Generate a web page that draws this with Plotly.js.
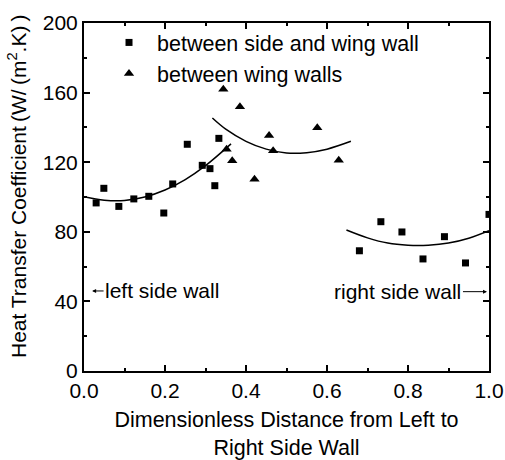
<!DOCTYPE html>
<html>
<head>
<meta charset="utf-8">
<script src="https://cdn.plot.ly/plotly-3.0.1.min.js"></script>
<style>html,body{margin:0;padding:0;background:#fff;}#chart{width:505px;height:460px;}</style>
</head>
<body>
<div id="chart"></div>
<script>
// Data
const squareX = [0.030, 0.049, 0.086, 0.123, 0.160, 0.197, 0.219, 0.255, 0.292, 0.311, 0.323, 0.333, 0.680, 0.733, 0.785, 0.837, 0.890, 0.942, 1.000];
const squareY = [96.6, 105.0, 94.6, 98.9, 100.4, 90.8, 107.5, 130.3, 118.2, 116.3, 106.5, 133.7, 69.1, 85.8, 79.9, 64.4, 77.2, 62.1, 90.0];
const triangleX = [0.344, 0.352, 0.366, 0.385, 0.421, 0.457, 0.467, 0.576, 0.629];
const triangleY = [161.9, 127.4, 120.9, 151.9, 110.2, 135.4, 126.6, 139.8, 121.1];
// Fit curves
const fitLeftX = [0.0, 0.05, 0.10, 0.15, 0.20, 0.25, 0.30, 0.363];
const fitLeftY = [100.2, 98.2, 98.0, 100.0, 104.0, 110.0, 118.0, 130.5];
const fitMidX = [0.317, 0.35, 0.40, 0.45, 0.50, 0.55, 0.60, 0.659];
const fitMidY = [145.4, 139.0, 132.0, 127.5, 125.3, 125.5, 127.5, 132.0];
const fitRightX = [0.648, 0.70, 0.75, 0.80, 0.85, 0.90, 0.95, 1.0];
const fitRightY = [81.0, 76.5, 73.5, 72.3, 72.3, 73.5, 76.3, 80.6];
const seriesNames = ['between side and wing wall', 'between wing walls'];
const xTitle = 'Dimensionless Distance from Left to<br>Right Side Wall';
const yTitle = 'Heat Transfer Coefficient\u2009(W/\u2009(m<sup>2</sup>.K)\u2009)';
const leftLabel = 'left side wall';
const rightLabel = 'right side wall';
const leftLabelAt = [0.02, 46];
const rightLabelAt = [0.995, 45.6];

const FONT = 'Liberation Sans, Arial, sans-serif';
const fitLine = {color: '#000', width: 1.5, shape: 'spline'};

const traces = [
  {x: squareX, y: squareY, type: 'scatter', mode: 'markers', name: seriesNames[0],
   marker: {symbol: 'square', size: 7, color: '#000'}},
  {x: triangleX, y: triangleY, type: 'scatter', mode: 'markers', name: seriesNames[1],
   marker: {symbol: 'triangle-up', size: 9, color: '#000'}},
  {x: fitLeftX, y: fitLeftY, type: 'scatter', mode: 'lines', line: fitLine, showlegend: false, hoverinfo: 'skip'},
  {x: fitMidX, y: fitMidY, type: 'scatter', mode: 'lines', line: fitLine, showlegend: false, hoverinfo: 'skip'},
  {x: fitRightX, y: fitRightY, type: 'scatter', mode: 'lines', line: fitLine, showlegend: false, hoverinfo: 'skip'}
];

const axisCommon = {
  showgrid: false, zeroline: false, showline: true, linecolor: '#000', linewidth: 2,
  mirror: 'ticks', ticks: 'inside', ticklen: 6, tickwidth: 2, tickcolor: '#000',
  tickfont: {family: FONT, size: 21, color: '#000'}
};

const layout = {
  width: 505, height: 460,
  margin: {l: 84, r: 16, t: 23, b: 89},
  paper_bgcolor: '#fff', plot_bgcolor: '#fff',
  font: {family: FONT, color: '#000'},
  xaxis: Object.assign({}, axisCommon, {
    range: [0, 1], dtick: 0.2, tickformat: '.1f',
    minor: {dtick: 0.1, ticks: 'inside', ticklen: 3, tickwidth: 2, tickcolor: '#000'},
    title: {text: xTitle, font: {family: FONT, size: 21.5, color: '#000'}, standoff: 17}
  }),
  yaxis: Object.assign({}, axisCommon, {
    range: [0, 200], dtick: 40,
    minor: {dtick: 20, ticks: 'inside', ticklen: 3, tickwidth: 2, tickcolor: '#000'}
  }),
  legend: {
    x: 0.042, y: 1.003, xanchor: 'left', yanchor: 'top',
    bgcolor: 'rgba(0,0,0,0)', borderwidth: 0,
    itemwidth: 46,
    font: {family: FONT, size: 21.5, color: '#000'},
    tracegroupgap: 0
  },
  showlegend: true,
  annotations: [
    {x: -0.165, y: 0.532, xref: 'paper', yref: 'paper', text: yTitle, textangle: -90,
     showarrow: false, xanchor: 'center', yanchor: 'middle',
     font: {family: FONT, size: 21, color: '#000'}},
    {x: leftLabelAt[0], y: leftLabelAt[1], xref: 'x', yref: 'y', text: leftLabel,
     showarrow: true, ax: 70, ay: 0, arrowhead: 2, arrowsize: 0.8, arrowwidth: 1, arrowcolor: '#000',
     font: {family: FONT, size: 21, color: '#000'}},
    {x: rightLabelAt[0], y: rightLabelAt[1], xref: 'x', yref: 'y', text: rightLabel,
     showarrow: true, ax: -89, ay: 0, arrowhead: 2, arrowsize: 0.8, arrowwidth: 1, arrowcolor: '#000',
     font: {family: FONT, size: 21, color: '#000'}}
  ]
};

Plotly.newPlot('chart', traces, layout, {staticPlot: true, displayModeBar: false});
</script>
</body>
</html>
